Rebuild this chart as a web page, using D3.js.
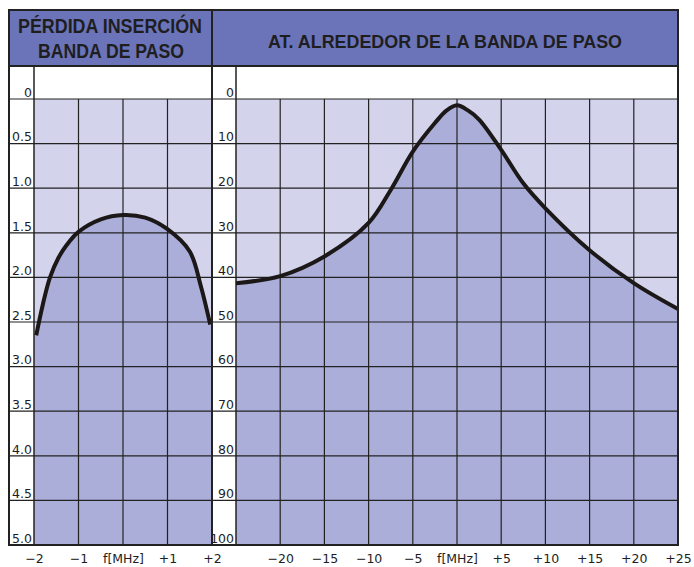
<meta charset="utf-8">
<style>
    body { margin: 0; background: #ffffff; }
    text { font-family: "DejaVu Sans", sans-serif; fill: #1e1e1e; }
    .title { font-family: "Liberation Sans Narrow", "Liberation Sans", sans-serif; font-weight: bold; }
</style>
<body>
<script src="https://cdn.jsdelivr.net/npm/d3@7"></script>
<script>
    // insertion loss (dB) across the pass band
    const leftFreq = [-1.95, -1.8, -1.64, -1.45, -1.27, -1, -0.5, 0, 0.5, 1, 1.5, 1.75, 1.96];
    const leftLoss = [2.65, 2.3, 2.0, 1.78, 1.64, 1.49, 1.35, 1.3, 1.33, 1.46, 1.71, 2.1, 2.53];

    // attenuation (dB) around the pass band
    const rightFreq = [-25, -20, -15, -10, -7.5, -5, -2.5, -1.2, 0, 1.2, 2.5, 5, 7.5, 10, 15, 20, 25];
    const rightAtt = [41.3, 39.7, 35.3, 27.8, 20.4, 11.8, 5.4, 2.6, 1.4, 2.5, 4.6, 11.4, 18.9, 24.5, 33.9, 41.3, 47.1];

    const leftYTicks = [0, 0.5, 1, 1.5, 2, 2.5, 3, 3.5, 4, 4.5, 5];
    const leftYLabels = ["0", "0.5", "1.0", "1.5", "2.0", "2.5", "3.0", "3.5", "4.0", "4.5", "5.0"];
    const leftXTicks = [-2, -1, 0, 1, 2];
    const leftXLabels = ["\u22122", "\u22121", "f[MHz]", "+1", "+2"];

    const rightYTicks = [0, 10, 20, 30, 40, 50, 60, 70, 80, 90, 100];
    const rightXTicks = [-20, -15, -10, -5, 0, 5, 10, 15, 20, 25];
    const rightXLabels = ["\u221220", "\u221215", "\u221210", "\u22125", "f[MHz]", "+5", "+10", "+15", "+20", "+25"];

    const titleLeft = ["PÉRDIDA INSERCIÓN", "BANDA DE PASO"];
    const titleRight = "AT. ALREDEDOR DE LA BANDA DE PASO";

    const width = 694, height = 567;
    const frameTop = 10, headBottom = 66, frameBottom = 545;
    const outerL = 9, mid = 212, outerR = 678;
    const plotL0 = 34, plotR0 = 236;

    const header = "#6c74b9", light = "#d3d3eb", dark = "#aaaed8", ink = "#222222";

    let svg = d3.select("body").append("svg")
        .attr("width", width)
        .attr("height", height);

    let xL = d3.scaleLinear().domain([-2, 2]).range([plotL0, mid]);
    let yL = d3.scaleLinear().domain([0, 5]).range([99, frameBottom]);
    let xR = d3.scaleLinear().domain([-25, 25]).range([plotR0, outerR]);
    let yR = d3.scaleLinear().domain([0, 100]).range([99, frameBottom]);

    // header bands
    svg.append("rect").attr("x", outerL).attr("y", frameTop)
        .attr("width", outerR - outerL).attr("height", headBottom - frameTop)
        .style("fill", header);

    function panel(x, y, xs, ys, yTicks, yLabels, xTicks, xLabels, colLeft, gridX) {
        let x0 = x.range()[0], x1 = x.range()[1];

        svg.append("rect").attr("x", x0).attr("y", y(0))
            .attr("width", x1 - x0).attr("height", frameBottom - y(0))
            .style("fill", light);

        let pts = xs.map(function (d, i) { return [d, ys[i]]; });
        let fillPts = pts.slice();
        fillPts.unshift([x.domain()[0], ys[0]]);
        fillPts.push([x.domain()[1], ys[ys.length - 1]]);

        let area = d3.area()
            .x(function (d) { return x(d[0]); })
            .y0(frameBottom)
            .y1(function (d) { return y(d[1]); })
            .curve(d3.curveCatmullRom.alpha(0.5));
        svg.append("path").datum(fillPts).attr("d", area).style("fill", dark);

        // horizontal grid (spans the label column too)
        svg.append("g").selectAll("line")
            .data(yTicks.slice(0, -1))
            .enter().append("line")
            .attr("x1", colLeft).attr("x2", x1)
            .attr("y1", function (d) { return y(d); })
            .attr("y2", function (d) { return y(d); })
            .style("stroke", ink).style("stroke-width", 1.2);

        // vertical grid
        svg.append("g").selectAll("line")
            .data(gridX)
            .enter().append("line")
            .attr("x1", function (d) { return x(d); })
            .attr("x2", function (d) { return x(d); })
            .attr("y1", y(0)).attr("y2", frameBottom)
            .style("stroke", ink).style("stroke-width", 1.2);

        let line = d3.line()
            .x(function (d) { return x(d[0]); })
            .y(function (d) { return y(d[1]); })
            .curve(d3.curveCatmullRom.alpha(0.5));
        svg.append("path").datum(pts)
            .attr("d", line)
            .style("fill", "none").style("stroke", "#1c1818")
            .style("stroke-width", 4).style("stroke-linecap", "butt");

        // y labels
        let ya = svg.append("g").attr("transform", "translate(" + (x0 - 2) + ",0)")
            .call(d3.axisLeft(y).tickValues(yTicks).tickSize(0)
                .tickFormat(function (d, i) { return yLabels[i]; }));
        ya.select(".domain").remove();
        ya.selectAll("text").attr("dy", "-0.22em").attr("x", 0)
            .style("font-family", "DejaVu Sans").style("font-size", "12.5px").style("fill", "#1e1e1e");

        // x labels
        let xa = svg.append("g").attr("transform", "translate(0," + frameBottom + ")")
            .call(d3.axisBottom(x).tickValues(xTicks).tickSize(0)
                .tickFormat(function (d, i) { return xLabels[i]; }));
        xa.select(".domain").remove();
        xa.selectAll("text").attr("y", 9)
            .style("font-family", "DejaVu Sans").style("font-size", "12.5px").style("fill", "#1e1e1e");
    }

    panel(xL, yL, leftFreq, leftLoss, leftYTicks, leftYLabels, leftXTicks, leftXLabels, outerL, [-1, 0, 1]);
    panel(xR, yR, rightFreq, rightAtt, rightYTicks, rightYTicks.map(String), rightXTicks, rightXLabels, mid,
        [-20, -15, -10, -5, 0, 5, 10, 15, 20]);

    // frame
    svg.append("rect").attr("x", outerL).attr("y", frameTop)
        .attr("width", outerR - outerL).attr("height", frameBottom - frameTop)
        .style("fill", "none").style("stroke", ink).style("stroke-width", 2);
    svg.append("line").attr("x1", outerL).attr("x2", outerR).attr("y1", headBottom).attr("y2", headBottom)
        .style("stroke", ink).style("stroke-width", 2);
    svg.append("line").attr("x1", mid).attr("x2", mid).attr("y1", frameTop).attr("y2", frameBottom)
        .style("stroke", ink).style("stroke-width", 2);
    [plotL0, plotR0].forEach(function (d) {
        svg.append("line").attr("x1", d).attr("x2", d).attr("y1", headBottom).attr("y2", frameBottom)
            .style("stroke", ink).style("stroke-width", 1.5);
    });

    // titles
    svg.append("text").attr("class", "title").attr("x", 110).attr("y", 33)
        .attr("text-anchor", "middle").attr("textLength", 184).attr("lengthAdjust", "spacingAndGlyphs")
        .style("font-size", "21px").text(titleLeft[0]);
    svg.append("text").attr("class", "title").attr("x", 111).attr("y", 58)
        .attr("text-anchor", "middle").attr("textLength", 146).attr("lengthAdjust", "spacingAndGlyphs")
        .style("font-size", "21px").text(titleLeft[1]);
    svg.append("text").attr("class", "title").attr("x", 445).attr("y", 48)
        .attr("text-anchor", "middle").attr("textLength", 354).attr("lengthAdjust", "spacingAndGlyphs")
        .style("font-size", "19px").text(titleRight);
</script>
